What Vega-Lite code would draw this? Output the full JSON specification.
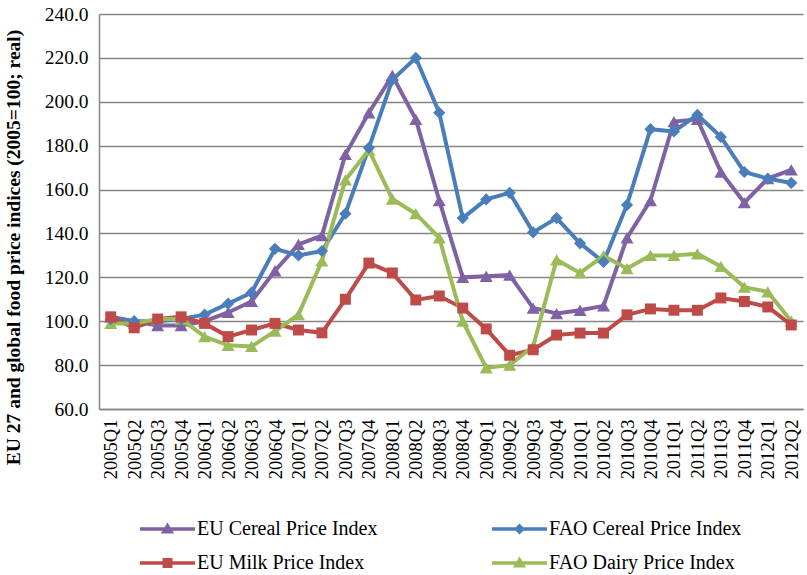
{
  "$schema": "https://vega.github.io/schema/vega-lite/v6.json",
  "width": 704,
  "height": 395,
  "autosize": "none",
  "padding": {"left": 99, "top": 14, "right": 4, "bottom": 166},
  "background": "white",
  "config": {
    "view": {"stroke": null},
    "font": "Liberation Serif",
    "axis": {"labelFont": "Liberation Serif", "titleFont": "Liberation Serif", "labelColor": "black", "titleColor": "black"},
    "legend": {"labelFont": "Liberation Serif", "labelFontSize": 20, "labelColor": "black"}
  },
  "datasets": {
    "rows": [
      {"q":"2005Q1","s":"EU Cereal Price Index","v":102},{"q":"2005Q2","s":"EU Cereal Price Index","v":100},{"q":"2005Q3","s":"EU Cereal Price Index","v":98},{"q":"2005Q4","s":"EU Cereal Price Index","v":98},{"q":"2006Q1","s":"EU Cereal Price Index","v":100},{"q":"2006Q2","s":"EU Cereal Price Index","v":104},{"q":"2006Q3","s":"EU Cereal Price Index","v":109},{"q":"2006Q4","s":"EU Cereal Price Index","v":123},{"q":"2007Q1","s":"EU Cereal Price Index","v":135},{"q":"2007Q2","s":"EU Cereal Price Index","v":139},{"q":"2007Q3","s":"EU Cereal Price Index","v":176},{"q":"2007Q4","s":"EU Cereal Price Index","v":195},{"q":"2008Q1","s":"EU Cereal Price Index","v":212},{"q":"2008Q2","s":"EU Cereal Price Index","v":192},{"q":"2008Q3","s":"EU Cereal Price Index","v":155},{"q":"2008Q4","s":"EU Cereal Price Index","v":120},{"q":"2009Q1","s":"EU Cereal Price Index","v":120.5},{"q":"2009Q2","s":"EU Cereal Price Index","v":121},{"q":"2009Q3","s":"EU Cereal Price Index","v":106},{"q":"2009Q4","s":"EU Cereal Price Index","v":103.5},{"q":"2010Q1","s":"EU Cereal Price Index","v":105},{"q":"2010Q2","s":"EU Cereal Price Index","v":107},{"q":"2010Q3","s":"EU Cereal Price Index","v":138},{"q":"2010Q4","s":"EU Cereal Price Index","v":155},{"q":"2011Q1","s":"EU Cereal Price Index","v":191},{"q":"2011Q2","s":"EU Cereal Price Index","v":192},{"q":"2011Q3","s":"EU Cereal Price Index","v":168},{"q":"2011Q4","s":"EU Cereal Price Index","v":154},{"q":"2012Q1","s":"EU Cereal Price Index","v":165},{"q":"2012Q2","s":"EU Cereal Price Index","v":169},
      {"q":"2005Q1","s":"FAO Cereal Price Index","v":101},{"q":"2005Q2","s":"FAO Cereal Price Index","v":100},{"q":"2005Q3","s":"FAO Cereal Price Index","v":100},{"q":"2005Q4","s":"FAO Cereal Price Index","v":101},{"q":"2006Q1","s":"FAO Cereal Price Index","v":103},{"q":"2006Q2","s":"FAO Cereal Price Index","v":108},{"q":"2006Q3","s":"FAO Cereal Price Index","v":113},{"q":"2006Q4","s":"FAO Cereal Price Index","v":133},{"q":"2007Q1","s":"FAO Cereal Price Index","v":130},{"q":"2007Q2","s":"FAO Cereal Price Index","v":132},{"q":"2007Q3","s":"FAO Cereal Price Index","v":149},{"q":"2007Q4","s":"FAO Cereal Price Index","v":179},{"q":"2008Q1","s":"FAO Cereal Price Index","v":210},{"q":"2008Q2","s":"FAO Cereal Price Index","v":220},{"q":"2008Q3","s":"FAO Cereal Price Index","v":195},{"q":"2008Q4","s":"FAO Cereal Price Index","v":147},{"q":"2009Q1","s":"FAO Cereal Price Index","v":155.5},{"q":"2009Q2","s":"FAO Cereal Price Index","v":158.5},{"q":"2009Q3","s":"FAO Cereal Price Index","v":140.5},{"q":"2009Q4","s":"FAO Cereal Price Index","v":147},{"q":"2010Q1","s":"FAO Cereal Price Index","v":135.5},{"q":"2010Q2","s":"FAO Cereal Price Index","v":127},{"q":"2010Q3","s":"FAO Cereal Price Index","v":153},{"q":"2010Q4","s":"FAO Cereal Price Index","v":187.5},{"q":"2011Q1","s":"FAO Cereal Price Index","v":186.5},{"q":"2011Q2","s":"FAO Cereal Price Index","v":194},{"q":"2011Q3","s":"FAO Cereal Price Index","v":184},{"q":"2011Q4","s":"FAO Cereal Price Index","v":168},{"q":"2012Q1","s":"FAO Cereal Price Index","v":165},{"q":"2012Q2","s":"FAO Cereal Price Index","v":163},
      {"q":"2005Q1","s":"EU Milk Price Index","v":102},{"q":"2005Q2","s":"EU Milk Price Index","v":97},{"q":"2005Q3","s":"EU Milk Price Index","v":101},{"q":"2005Q4","s":"EU Milk Price Index","v":102},{"q":"2006Q1","s":"EU Milk Price Index","v":99},{"q":"2006Q2","s":"EU Milk Price Index","v":93},{"q":"2006Q3","s":"EU Milk Price Index","v":96},{"q":"2006Q4","s":"EU Milk Price Index","v":99},{"q":"2007Q1","s":"EU Milk Price Index","v":96},{"q":"2007Q2","s":"EU Milk Price Index","v":94.7},{"q":"2007Q3","s":"EU Milk Price Index","v":110},{"q":"2007Q4","s":"EU Milk Price Index","v":126.5},{"q":"2008Q1","s":"EU Milk Price Index","v":122},{"q":"2008Q2","s":"EU Milk Price Index","v":109.7},{"q":"2008Q3","s":"EU Milk Price Index","v":111.5},{"q":"2008Q4","s":"EU Milk Price Index","v":106},{"q":"2009Q1","s":"EU Milk Price Index","v":96.5},{"q":"2009Q2","s":"EU Milk Price Index","v":84.5},{"q":"2009Q3","s":"EU Milk Price Index","v":87},{"q":"2009Q4","s":"EU Milk Price Index","v":93.7},{"q":"2010Q1","s":"EU Milk Price Index","v":94.6},{"q":"2010Q2","s":"EU Milk Price Index","v":94.6},{"q":"2010Q3","s":"EU Milk Price Index","v":102.9},{"q":"2010Q4","s":"EU Milk Price Index","v":105.6},{"q":"2011Q1","s":"EU Milk Price Index","v":105},{"q":"2011Q2","s":"EU Milk Price Index","v":105},{"q":"2011Q3","s":"EU Milk Price Index","v":110.6},{"q":"2011Q4","s":"EU Milk Price Index","v":109},{"q":"2012Q1","s":"EU Milk Price Index","v":106.5},{"q":"2012Q2","s":"EU Milk Price Index","v":98.3},
      {"q":"2005Q1","s":"FAO Dairy Price Index","v":99},{"q":"2005Q2","s":"FAO Dairy Price Index","v":99},{"q":"2005Q3","s":"FAO Dairy Price Index","v":101},{"q":"2005Q4","s":"FAO Dairy Price Index","v":101},{"q":"2006Q1","s":"FAO Dairy Price Index","v":93},{"q":"2006Q2","s":"FAO Dairy Price Index","v":89},{"q":"2006Q3","s":"FAO Dairy Price Index","v":88.5},{"q":"2006Q4","s":"FAO Dairy Price Index","v":95.5},{"q":"2007Q1","s":"FAO Dairy Price Index","v":103},{"q":"2007Q2","s":"FAO Dairy Price Index","v":127.5},{"q":"2007Q3","s":"FAO Dairy Price Index","v":164.4},{"q":"2007Q4","s":"FAO Dairy Price Index","v":178},{"q":"2008Q1","s":"FAO Dairy Price Index","v":155.7},{"q":"2008Q2","s":"FAO Dairy Price Index","v":149},{"q":"2008Q3","s":"FAO Dairy Price Index","v":138},{"q":"2008Q4","s":"FAO Dairy Price Index","v":100},{"q":"2009Q1","s":"FAO Dairy Price Index","v":78.7},{"q":"2009Q2","s":"FAO Dairy Price Index","v":80},{"q":"2009Q3","s":"FAO Dairy Price Index","v":88.5},{"q":"2009Q4","s":"FAO Dairy Price Index","v":128},{"q":"2010Q1","s":"FAO Dairy Price Index","v":122},{"q":"2010Q2","s":"FAO Dairy Price Index","v":129.8},{"q":"2010Q3","s":"FAO Dairy Price Index","v":124},{"q":"2010Q4","s":"FAO Dairy Price Index","v":130},{"q":"2011Q1","s":"FAO Dairy Price Index","v":130},{"q":"2011Q2","s":"FAO Dairy Price Index","v":130.7},{"q":"2011Q3","s":"FAO Dairy Price Index","v":125},{"q":"2011Q4","s":"FAO Dairy Price Index","v":115.5},{"q":"2012Q1","s":"FAO Dairy Price Index","v":113.4},{"q":"2012Q2","s":"FAO Dairy Price Index","v":100}
    ]
  },
  "data": {"name": "rows"},
  "encoding": {
    "x": {
      "field": "q", "type": "ordinal",
      "scale": {"type": "point", "padding": 0.5},
      "axis": {
        "title": null, "labelAngle": -90, "labelFontSize": 18.5, "labelPadding": 10,
        "ticks": false, "grid": false, "domainColor": "#868686", "domainWidth": 1.5
      }
    },
    "y": {
      "field": "v", "type": "quantitative",
      "scale": {"domain": [60, 240], "nice": false, "zero": false},
      "axis": {
        "title": "EU 27 and global food price indices (2005=100; real)",
        "titleFontSize": 19.5, "titleFontWeight": "bold", "titleAngle": 270,
        "titleX": -86, "titleY": 233, "titleBaseline": "middle", "titleAlign": "center",
        "values": [60, 80, 100, 120, 140, 160, 180, 200, 220, 240],
        "format": ".1f", "labelFontSize": 19.5, "labelPadding": 11,
        "ticks": false, "grid": true, "gridColor": "#868686", "gridWidth": 1.5,
        "domainColor": "#868686", "domainWidth": 1.5
      }
    },
    "color": {
      "field": "s", "type": "nominal",
      "scale": {
        "domain": ["EU Cereal Price Index", "FAO Cereal Price Index", "EU Milk Price Index", "FAO Dairy Price Index"],
        "range": ["#7F62A3", "#4A7EBB", "#BE4B48", "#9BBB59"]
      },
      "legend": {
        "orient": "none", "direction": "horizontal", "legendX": 41, "legendY": 504, "columns": 2, "title": null,
        "values": ["EU Cereal Price Index", "FAO Cereal Price Index", "EU Milk Price Index", "FAO Dairy Price Index"],
        "padding": 0, "symbolSize": 3025, "symbolStrokeWidth": 0, "symbolOpacity": 1,
        "labelFont": "Liberation Serif", "labelFontSize": 20, "labelColor": "black",
        "labelOffset": 2, "columnPadding": 114, "rowPadding": 12, "clipHeight": 22,
        "labelLimit": 400,
        "encoding": {
          "symbols": {
            "shape": {
              "condition": [
                {"test": "datum.value === 'FAO Cereal Price Index'", "value": "M-1,-0.065L1,-0.065L1,0.065L-1,0.065ZM0,-0.2L0.2,0L0,0.2L-0.2,0Z"},
                {"test": "datum.value === 'EU Milk Price Index'", "value": "M-1,-0.065L1,-0.065L1,0.065L-1,0.065ZM-0.18,-0.18L0.18,-0.18L0.18,0.18L-0.18,0.18Z"}
              ],
              "value": "M-1,-0.065L1,-0.065L1,0.065L-1,0.065ZM0,-0.24L0.24,0.16L-0.24,0.16Z"
            },
            "fill": {
              "condition": [
                {"test": "datum.value === 'EU Cereal Price Index'", "value": "#7F62A3"},
                {"test": "datum.value === 'FAO Cereal Price Index'", "value": "#4A7EBB"},
                {"test": "datum.value === 'EU Milk Price Index'", "value": "#BE4B48"}
              ],
              "value": "#9BBB59"
            },
            "strokeWidth": {"value": 0},
            "opacity": {"value": 1},
            "fillOpacity": {"value": 1}
          },
          "labels": {
            "font": {"value": "Liberation Serif"}
          }
        }
      }
    }
  },
  "layer": [
    {
      "mark": {"type": "line", "strokeWidth": 4}
    },
    {
      "transform": [{"filter": {"field": "s", "oneOf": ["EU Cereal Price Index", "FAO Dairy Price Index"]}}],
      "mark": {"type": "point", "shape": "triangle-up", "filled": true, "opacity": 1, "size": 170, "strokeWidth": 0}
    },
    {
      "transform": [{"filter": {"field": "s", "equal": "FAO Cereal Price Index"}}],
      "mark": {"type": "point", "shape": "diamond", "filled": true, "opacity": 1, "size": 150, "strokeWidth": 0}
    },
    {
      "transform": [{"filter": {"field": "s", "equal": "EU Milk Price Index"}}],
      "mark": {"type": "point", "shape": "square", "filled": true, "opacity": 1, "size": 120, "strokeWidth": 0}
    }
  ]
}
